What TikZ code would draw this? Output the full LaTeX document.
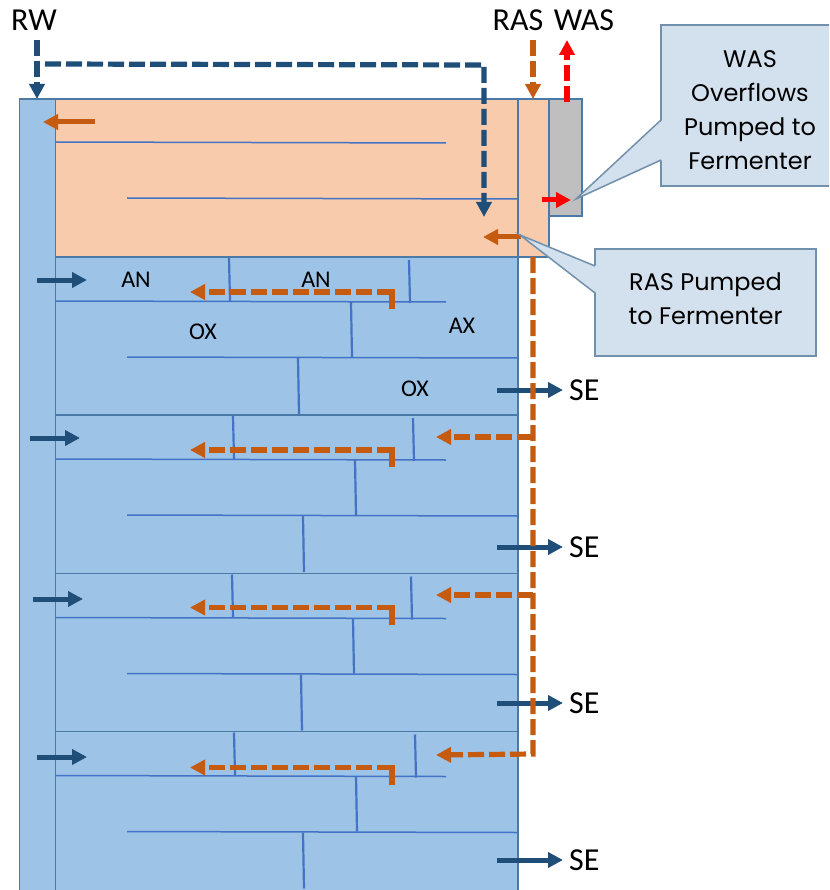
\documentclass[tikz,border=0pt]{standalone}
\usepackage{fontspec}
\setmainfont{Carlito}
\newfontfamily\notefont{Poppins}
\usepackage{xcolor}
\usetikzlibrary{arrows.meta,positioning}
\definecolor{tankblue}{HTML}{9DC3E6}
\definecolor{anoxorange}{HTML}{F7CBAC}
\definecolor{wallblue}{HTML}{4A7AA5}
\definecolor{bafflelblue}{HTML}{4472C4}
\definecolor{flownavy}{HTML}{1F4E79}
\definecolor{flowrust}{HTML}{C55A11}
\definecolor{wasgrey}{HTML}{BFBFBF}
\definecolor{notefill}{HTML}{D3E0ED}
\definecolor{noteedge}{HTML}{7090AC}

\begin{document}
\begin{tikzpicture}[
    x=1pt, y=-1pt,
    tank/.style={draw=wallblue, line width=1.6pt},
    baffle/.style={draw=bafflelblue, line width=1.5pt},
    wall/.style={draw=bafflelblue, line width=2.2pt},
    arrow/.style={-{Triangle[length=15pt,width=15pt]}, line width=5pt},
    dasharrow/.style={arrow, line width=5.2pt, dash pattern=on 16pt off 5pt},
    flowlabel/.style={font=\fontsize{32}{34}\selectfont, inner sep=0pt},
    zone/.style={font=\fontsize{24}{26}\selectfont, inner sep=0pt},
    note/.style={draw=noteedge, fill=notefill, line width=1.5pt, align=center,
      font=\fontsize{24}{34}\selectfont\notefont, inner sep=0pt}
  ]
    \clip (0,0) rectangle (829,890);
    % tanks
    \draw[tank, fill=tankblue] (55.5,257) rectangle (518,900);
    \draw[tank, fill=anoxorange] (55.5,99) rectangle (518,257);
    \draw[tank, fill=anoxorange] (518,99) rectangle (549,257);
    \draw[tank, fill=wasgrey] (549,99) rectangle (582,216);
    \draw[tank, fill=tankblue] (19.5,99) rectangle (55.5,900);
    \draw[baffle] (55.5,142) -- (446,143);
    \draw[baffle] (127,198) -- (518,199);
    % one pass per row: top, walls, feed arrow, SE height, pipe height
    \foreach \rowy/\walla/\wallb/\wallc/\walld/\feedx/\feedy/\sey/\pipey in {
      257/229/409/351/298/37/280/390/292,
      415/233/413/355/303/30/438/547/450,
      573.5/232/411/353/301/33/599/703/607.5,
      731.5/234/415/356/303/37/757/860/767.5} {
      \draw[tank] (55.5,\rowy) -- (518,\rowy);
      \draw[baffle] (55.5,\rowy+44) -- (446,\rowy+45);
      \draw[baffle] (127,\rowy+100) -- (518,\rowy+101);
      \draw[wall] (\walla,\rowy+1) -- (\walla+1,\rowy+44);
      \draw[wall] (\wallb,\rowy+3) -- (\wallb+1,\rowy+46);
      \draw[wall] (\wallc,\rowy+45) -- (\wallc+1,\rowy+100);
      \draw[wall] (\walld,\rowy+101) -- (\walld+1,\rowy+157);
      \coordinate (feedin) at (\feedx,\feedy);
      \coordinate (feedout) at (\feedx+50,\feedy);
      \draw[arrow, flownavy] (feedin) -- (feedout);
      % pipe: one long dash round the bend, the rest dashed
      \coordinate (pipestart) at (392,\pipey+17);
      \coordinate (pipecorner) at (392,\pipey);
      \coordinate (pipebend) at (377,\pipey);
      \coordinate (pipedash) at (372,\pipey);
      \coordinate (pipeend) at (190,\pipey);
      \draw[line width=5.2pt, flowrust] (pipestart) -- (pipecorner) -- (pipebend);
      \draw[dasharrow, flowrust] (pipedash) -- (pipeend);
      \node[flowlabel, anchor=west] (se\sey) at (569,\sey) {SE};
      \coordinate (seout) at (497,\sey);
      \draw[arrow, flownavy] (seout) -- ([xshift=-6pt]se\sey.west);
    }
    % labels in the first pass
    \node[zone] (anone) at (136,280) {AN};
    \node[zone] (antwo) at (316,280) {AN};
    \node[zone] (oxone) at (203,332) {OX};
    \node[zone] (axone) at (462,326) {AX};
    \node[zone] (oxtwo) at (415,389) {OX};
    % top flows
    \node[flowlabel] (rw) at (34,20) {RW};
    \node[flowlabel] (ras) at (518,20) {RAS};
    \node[flowlabel] (was) at (584,20) {WAS};
    \coordinate (rwtop) at (37,40);
    \coordinate (rwin) at (37,99);
    \coordinate (stepstart) at (45,64);
    \coordinate (stepcorner) at (484,65);
    \coordinate (stepend) at (484,217);
    \coordinate (rastop) at (533,40);
    \coordinate (rasin) at (533,99);
    \coordinate (wasfrom) at (567,102);
    \coordinate (wasto) at (567,40);
    \draw[dasharrow, flownavy] (rwtop) -- (rwin);
    \draw[dasharrow, flownavy] (stepstart) -- (stepcorner) -- (stepend);
    \draw[dasharrow, flowrust] (rastop) -- (rasin);
    \draw[dasharrow, red] (wasfrom) -- (wasto);
    % return line
    \coordinate (retstart) at (533,257);
    \coordinate (retlow) at (533,754);
    \coordinate (retend) at (436,755);
    \coordinate (retone) at (533,437);
    \coordinate (retoneend) at (436,437);
    \coordinate (rettwo) at (533,595);
    \coordinate (rettwoend) at (436,595);
    \draw[dasharrow, flowrust] (retstart) -- (retlow) -- (retend);
    \draw[dasharrow, flowrust] (retone) -- (retoneend);
    \draw[dasharrow, flowrust] (rettwo) -- (rettwoend);
    % pumped flows
    \coordinate (mixfrom) at (95,122);
    \coordinate (mixto) at (43,122);
    \coordinate (rasfrom) at (521,237);
    \coordinate (rasto) at (483,237);
    \coordinate (wsfrom) at (542,200);
    \coordinate (wsto) at (571,200);
    \draw[arrow, flowrust] (mixfrom) -- (mixto);
    \draw[arrow, flowrust] (rasfrom) -- (rasto);
    \draw[arrow, red] (wsfrom) -- (wsto);
    % notes
    \node[note, minimum width=178pt, minimum height=161pt] (wasnote) at (750,105.5)
      {\rule{0pt}{26pt}WAS\\Overflows\\Pumped to\\Fermenter};
    \node[note, minimum width=221pt, minimum height=107pt] (rasnote) at (705.5,302.5)
      {RAS Pumped\\to Fermenter\rule[-7pt]{0pt}{7pt}};
    \coordinate (wastip) at (576,199);
    \coordinate (washigh) at (661,120);
    \coordinate (waslow) at (661,160);
    \coordinate (rastip) at (520,235);
    \coordinate (rashigh) at (595,266);
    \coordinate (raslow) at (595,293);
    \fill[notefill] (wastip) -- ([xshift=1.5pt]washigh) -- ([xshift=1.5pt]waslow) -- cycle;
    \fill[notefill] (rastip) -- ([xshift=1.5pt]rashigh) -- ([xshift=1.5pt]raslow) -- cycle;
    \draw[noteedge, line width=1.5pt] (washigh) -- (wastip) -- (waslow);
    \draw[noteedge, line width=1.5pt] (rashigh) -- (rastip) -- (raslow);
  \end{tikzpicture}
\end{document}
